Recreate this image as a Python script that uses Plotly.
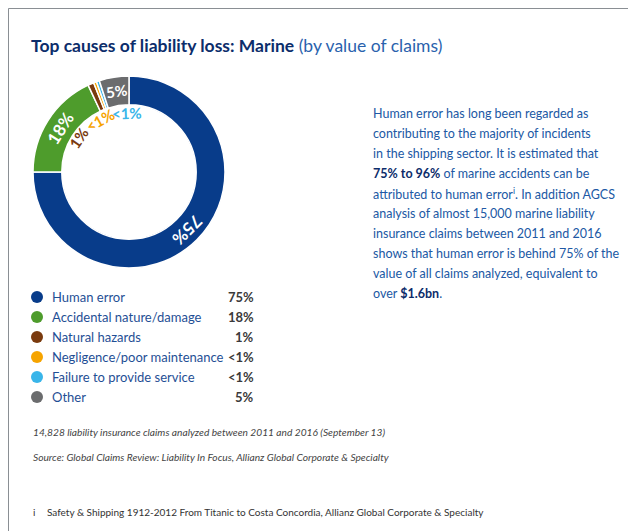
import math

import plotly.graph_objects as go

causes = [
    "Human error",
    "Accidental nature/damage",
    "Natural hazards",
    "Negligence/poor maintenance",
    "Failure to provide service",
    "Other",
]
shares = [75, 18, 1, 0.5, 0.5, 5]
share_labels = ["75%", "18%", "1%", "&lt;1%", "&lt;1%", "5%"]
slice_colors = ["#083c8a", "#4e9c2c", "#7a3a0e", "#f6a400", "#39b5e9", "#6b6c6e"]

paragraph = [
    "Human error has long been regarded as",
    "contributing to the majority of incidents",
    "in the shipping sector. It is estimated that",
    "<b><span style='color:#0c2c6a'>75% to 96%</span></b> of marine accidents can be",
    "attributed to human error<sup>i</sup>. In addition AGCS",
    "analysis of almost 15,000 marine liability",
    "insurance claims between 2011 and 2016",
    "shows that human error is behind 75% of the",
    "value of all claims analyzed, equivalent to",
    "over <b><span style='color:#0c2c6a'>$1.6bn</span></b>.",
]
notes = [
    "14,828 liability insurance claims analyzed between 2011 and 2016 (September 13)",
    "Source: Global Claims Review: Liability In Focus, Allianz Global Corporate & Specialty",
]
footnote = "Safety & Shipping 1912-2012 From Titanic to Costa Concordia, Allianz Global Corporate & Specialty"

# the page body has an 8px margin, so the figure is drawn 8px in from the window edge;
# axes are set up so that data units equal window pixels
PAGE_W, PAGE_H, OFF = 636, 531, 8
W, H = PAGE_W - OFF, PAGE_H - OFF
FONT = "Lato"
CX, CY, R = 129, 172, 96          # donut centre / outer radius (window px)
# small slices get their labels inside the hole, fanned out (angle deg clockwise from top, radius px)
INNER_LABELS = {2: (304, 61), 3: (331, 60), 4: (358, 59)}

fig = go.Figure()

fig.add_trace(go.Pie(
    values=shares, labels=causes, sort=False, direction="clockwise", rotation=0,
    hole=0.7, textinfo="none", showlegend=False, hoverinfo="label+percent",
    marker=dict(colors=slice_colors, line=dict(color="white", width=1.5)),
    domain=dict(x=[(CX - R - OFF) / W, (CX + R - OFF) / W],
                y=[1 - (CY + R - OFF) / H, 1 - (CY - R - OFF) / H]),
))

# legend dots
fig.add_trace(go.Scatter(
    x=[37] * len(causes), y=[297 + 20 * i for i in range(len(causes))],
    mode="markers", marker=dict(color=slice_colors, size=12),
    showlegend=False, hoverinfo="skip",
))

annotations = []

# donut labels
total = sum(shares)
cum = 0
for i, (v, lab) in enumerate(zip(shares, share_labels)):
    theta = 360 * (cum + v / 2) / total
    cum += v
    if i in INNER_LABELS:
        theta, r = INNER_LABELS[i]
        color, size = slice_colors[i], 15
    else:
        r = 82
        color, size = "white", 17 if v > 10 else 15
    ang = (theta + 180) % 360 - 180
    annotations.append(dict(
        x=CX + r * math.sin(math.radians(theta)), y=CY - r * math.cos(math.radians(theta)),
        text=f"<b>{lab}</b>", textangle=ang, showarrow=False,
        font=dict(family=FONT, size=size, color=color),
    ))

# legend text
for i, (c, lab) in enumerate(zip(causes, share_labels)):
    y = 297 + 20 * i
    annotations.append(dict(x=50, y=y, text=c, xanchor="left", showarrow=False,
                            font=dict(family=FONT, size=13, color="#1f4f95")))
    annotations.append(dict(x=256, y=y, text=f"<b>{lab}</b>", xanchor="right", showarrow=False,
                            font=dict(family=FONT, size=13, color="#3a3a3a")))

# title
annotations.append(dict(
    x=29, y=45, xanchor="left",
    text="<b>Top causes of liability loss: Marine</b> <span style='color:#2a62ad'>(by value of claims)</span>",
    showarrow=False, font=dict(family=FONT, size=17.5, color="#0c2d6b"),
))

# paragraph
for i, line in enumerate(paragraph):
    annotations.append(dict(x=371, y=113 + 20 * i, text=line, xanchor="left", showarrow=False,
                            font=dict(family=FONT, size=12.5, color="#2058a4")))

# notes
for i, line in enumerate(notes):
    annotations.append(dict(x=31, y=432 + 25 * i, text=f"<i>{line}</i>", xanchor="left", showarrow=False,
                            font=dict(family=FONT, size=10.2, color="#444444")))
annotations.append(dict(x=31, y=512, text="i", xanchor="left", showarrow=False,
                        font=dict(family=FONT, size=10, color="#333333")))
annotations.append(dict(x=45, y=512, text=footnote, xanchor="left", showarrow=False,
                        font=dict(family=FONT, size=10, color="#333333")))

fig.update_layout(
    width=W, height=H, margin=dict(l=0, r=0, t=0, b=0),
    paper_bgcolor="#e1f0fa", plot_bgcolor="#e1f0fa",
    xaxis=dict(range=[OFF, PAGE_W], visible=False, fixedrange=True),
    yaxis=dict(range=[PAGE_H, OFF], visible=False, fixedrange=True),
    shapes=[dict(type="rect", x0=OFF + 0.5, y0=OFF + 0.5, x1=PAGE_W + 5, y1=PAGE_H + 5, layer="below",
                 fillcolor="white", line=dict(color="#8a8f94", width=1))],
    annotations=annotations,
)

fig.write_html("out.html")
